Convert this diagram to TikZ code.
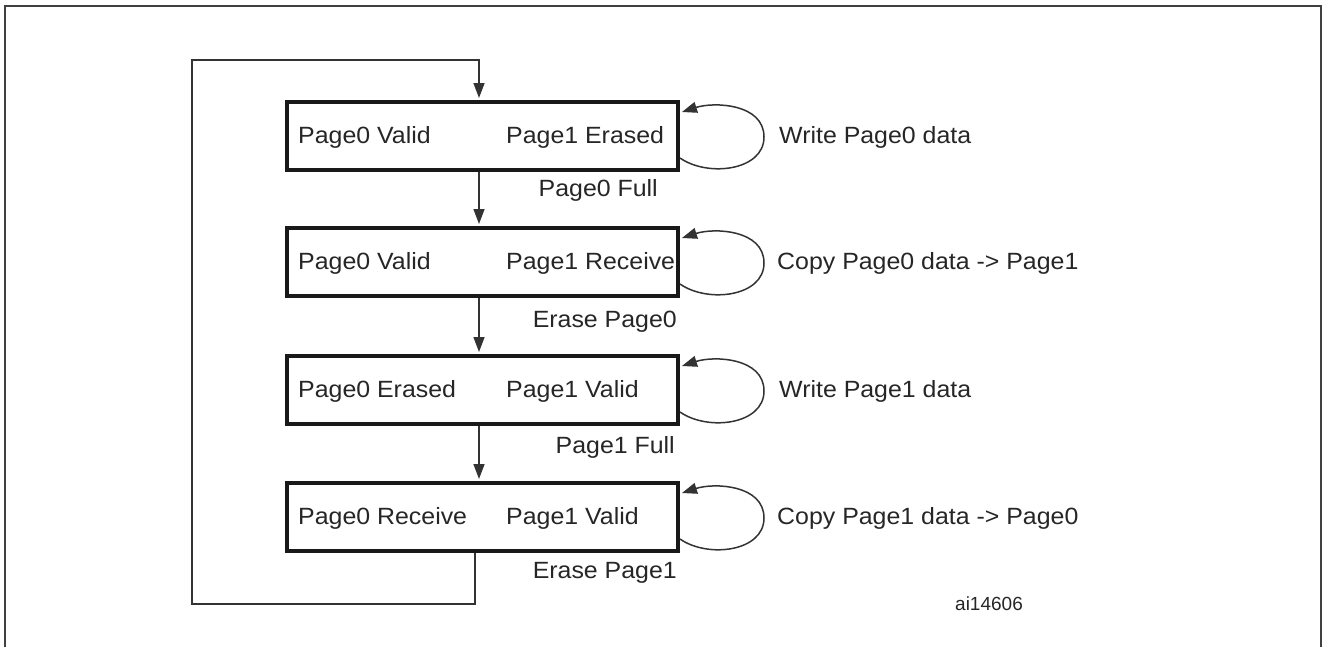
\documentclass[tikz,border=0pt]{standalone}
\usepackage{fontspec}
\setmainfont[FakeStretch=1.06]{Liberation Sans}
\newfontfamily\idfont{Liberation Sans}
\usetikzlibrary{arrows.meta}
\begin{document}
\begin{tikzpicture}[x=1pt,y=-1pt,
  state/.style={draw=black!90,line width=4pt,minimum width=391pt,minimum height=68pt,inner sep=0pt},
  txt/.style={font=\fontsize{23.5}{27}\selectfont,inner sep=0pt,text=black!85},
  small/.style={font=\idfont\fontsize{19}{23}\selectfont,inner sep=0pt,text=black!85},
  conn/.style={draw=black!80,line width=1.5pt},
  arr/.style={conn,-{Triangle[length=15pt,width=11pt]}},
]
\useasboundingbox (0,0) rectangle (1327,646);
% outer frame (bottom edge lies below the visible area)
\draw[line width=2.5pt,draw=black!75] (5,6) rectangle (1321,700);

% states
\node[state] (b1) at (482.5,136) {};
\node[state] (b2) at (482.5,262) {};
\node[state] (b3) at (482.5,390) {};
\node[state] (b4) at (482.5,517) {};

% texts inside states
\node[txt,anchor=base west] (t1a) at (298,143.5) {Page0 Valid};
\node[txt,anchor=base west] (t1b) at (506,143.5) {Page1 Erased};
\node[txt,anchor=base west] (t2a) at (298,269.5) {Page0 Valid};
\node[txt,anchor=base west] (t2b) at (506,269.5) {Page1 Receive};
\node[txt,anchor=base west] (t3a) at (298,397.5) {Page0 Erased};
\node[txt,anchor=base west] (t3b) at (506,397.5) {Page1 Valid};
\node[txt,anchor=base west] (t4a) at (298,524.5) {Page0 Receive};
\node[txt,anchor=base west] (t4b) at (506,524.5) {Page1 Valid};

% transition labels
\node[txt,anchor=base east] (e1) at (658,196) {Page0 Full};
\node[txt,anchor=base east] (e2) at (677,327) {Erase Page0};
\node[txt,anchor=base east] (e3) at (675,453) {Page1 Full};
\node[txt,anchor=base east] (e4) at (677,578) {Erase Page1};

% self-loop labels
\node[txt,anchor=base west] (s1) at (779,143) {Write Page0 data};
\node[txt,anchor=base west] (s2) at (777,269) {Copy Page0 data -> Page1};
\node[txt,anchor=base west] (s3) at (779,397) {Write Page1 data};
\node[txt,anchor=base west] (s4) at (777,524) {Copy Page1 data -> Page0};

\node[small,anchor=base west] (id) at (955,610) {ai14606};

% vertical transitions
\draw[arr] ([xshift=-3.5pt]b1.south) -- ([xshift=-3.5pt,yshift=2pt]b2.north);
\draw[arr] ([xshift=-3.5pt]b2.south) -- ([xshift=-3.5pt,yshift=2pt]b3.north);
\draw[arr] ([xshift=-3.5pt]b3.south) -- ([xshift=-3.5pt,yshift=2pt]b4.north);

% return path
\coordinate (c1) at (475,604);
\coordinate (c2) at (192,604);
\coordinate (c3) at (192,60);
\coordinate (c4) at (479,60);
\draw[arr] ([xshift=-7.5pt]b4.south) -- (c1) -- (c2) -- (c3) -- (c4) -- ([xshift=-3.5pt,yshift=2pt]b1.north);

% self loops
\coordinate (l1) at (764,137);
\coordinate (l2) at (764,263);
\coordinate (l3) at (764,391);
\coordinate (l4) at (764,518);
\draw[arr] ([yshift=-22pt]b1.east) to[out=-35,in=-90] (l1) to[out=90,in=18] ([xshift=2pt,yshift=24pt]b1.east);
\draw[arr] ([yshift=-22pt]b2.east) to[out=-35,in=-90] (l2) to[out=90,in=18] ([xshift=2pt,yshift=24pt]b2.east);
\draw[arr] ([yshift=-22pt]b3.east) to[out=-35,in=-90] (l3) to[out=90,in=18] ([xshift=2pt,yshift=24pt]b3.east);
\draw[arr] ([yshift=-22pt]b4.east) to[out=-35,in=-90] (l4) to[out=90,in=18] ([xshift=2pt,yshift=24pt]b4.east);
\end{tikzpicture}
\end{document}
